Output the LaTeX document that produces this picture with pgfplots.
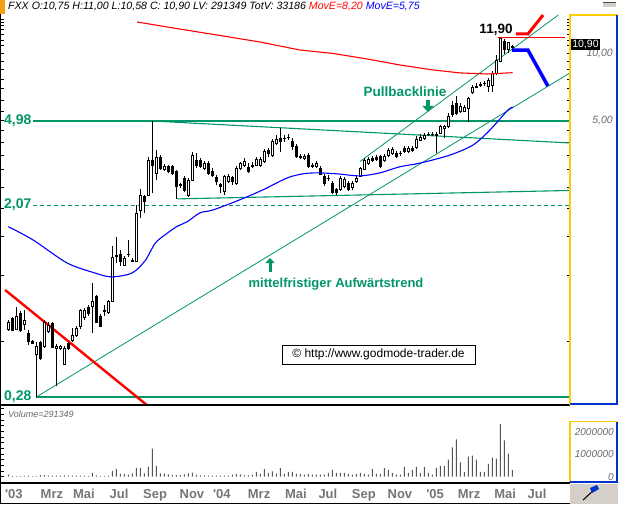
\documentclass[border=0pt]{standalone}
\usepackage{fontspec}
\setmainfont{Liberation Sans}
\usepackage{pgfplots}
\usepackage{pgfplotstable}
\pgfplotsset{compat=1.18}
\usetikzlibrary{arrows.meta}

\definecolor{gmgreen}{RGB}{0,150,105}
\definecolor{gmred}{RGB}{255,0,0}
\definecolor{gmblue}{RGB}{0,0,255}
\definecolor{gmyellow}{RGB}{255,204,0}
\definecolor{gmframe}{RGB}{0,51,204}
\definecolor{gmgray}{RGB}{105,105,105}
\definecolor{gmtick}{RGB}{118,118,118}
\definecolor{gmpanel}{RGB}{212,208,200}
\definecolor{gmorange}{RGB}{245,160,20}
\definecolor{volgray}{RGB}{85,85,85}

\pgfplotstableread{
i o h l c
0 0.567 0.625 0.559 0.608
1 0.635 0.645 0.557 0.563
2 0.569 0.718 0.563 0.647
3 0.671 0.687 0.552 0.563
4 0.600 0.694 0.563 0.625
5 0.546 0.563 0.482 0.499
6 0.498 0.508 0.487 0.492
7 0.439 0.499 0.280 0.473
8 0.494 0.502 0.412 0.419
9 0.473 0.625 0.467 0.613
10 0.554 0.613 0.546 0.594
11 0.604 0.613 0.467 0.470
12 0.467 0.487 0.314 0.477
13 0.464 0.482 0.457 0.473
14 0.394 0.477 0.391 0.466
15 0.491 0.498 0.457 0.466
16 0.508 0.575 0.498 0.535
17 0.535 0.588 0.524 0.573
18 0.583 0.701 0.569 0.689
19 0.643 0.709 0.625 0.689
20 0.714 0.731 0.652 0.671
21 0.718 0.917 0.546 0.757
22 0.798 0.812 0.606 0.608
23 0.647 0.666 0.582 0.588
24 0.685 0.731 0.652 0.694
25 0.678 0.770 0.666 0.757
26 0.757 1.35 0.755 1.20
27 1.215 1.49 1.13 1.225
28 1.24 1.30 1.10 1.15
29 1.11 1.22 1.10 1.19
30 1.235 1.44 1.21 1.24
31 1.155 1.19 1.15 1.17
32 1.15 2.07 1.15 1.90
33 1.97 2.45 1.81 2.30
34 2.26 2.30 1.91 2.15
35 2.30 3.43 2.28 3.32
36 3.32 4.98 2.35 3.15
37 2.89 3.68 2.69 3.41
38 3.41 3.49 2.99 3.04
39 3.02 3.18 2.96 3.12
40 3.09 3.15 2.90 2.94
41 3.09 3.15 2.84 2.89
42 2.94 2.99 2.21 2.52
43 2.56 2.61 2.48 2.55
44 2.74 2.81 2.38 2.41
45 2.30 2.75 2.26 2.69
46 2.69 3.60 2.66 3.49
47 3.32 3.56 3.05 3.15
48 3.29 3.39 3.05 3.12
49 3.04 3.29 2.99 3.21
50 3.21 3.29 2.84 2.89
51 2.94 3.05 2.78 2.84
52 2.77 2.84 2.56 2.65
53 2.56 2.61 2.35 2.53
54 2.39 2.84 2.30 2.81
55 2.65 2.87 2.61 2.81
56 2.76 2.81 2.56 2.65
57 2.60 3.12 2.56 3.04
58 3.04 3.26 2.99 3.21
59 3.15 3.39 3.09 3.26
60 3.08 3.22 2.90 2.94
61 3.09 3.25 3.05 3.15
62 3.15 3.43 3.12 3.34
63 3.15 3.42 3.09 3.34
64 3.26 3.72 3.22 3.62
65 3.65 3.76 3.42 3.55
66 3.49 4.12 3.42 4.01
67 3.95 4.30 3.88 4.11
68 4.16 4.61 3.62 4.01
69 4.14 4.30 4.01 4.16
70 4.21 4.35 4.08 4.18
71 4.01 4.16 3.68 3.81
72 3.81 3.92 3.39 3.43
73 3.44 3.53 3.36 3.42
74 3.37 3.53 3.32 3.46
75 3.49 3.56 3.05 3.09
76 3.15 3.22 3.05 3.12
77 3.12 3.29 3.05 3.21
78 3.04 3.12 2.84 2.87
79 2.81 2.87 2.53 2.59
80 2.75 2.84 2.66 2.73
81 2.60 2.66 2.33 2.36
82 2.43 2.48 2.30 2.36
83 2.43 2.81 2.40 2.74
84 2.53 2.78 2.48 2.71
85 2.60 2.66 2.40 2.45
86 2.50 2.66 2.43 2.60
87 2.65 2.81 2.61 2.73
88 2.81 3.09 2.78 3.04
89 3.02 3.39 2.99 3.29
90 3.21 3.42 3.15 3.33
91 3.37 3.46 3.25 3.30
92 3.41 3.49 3.29 3.34
93 3.43 3.49 3.04 3.09
94 3.32 3.53 3.25 3.43
95 3.49 3.76 3.42 3.68
96 3.55 3.80 3.49 3.71
97 3.55 3.64 3.39 3.43
98 3.54 3.64 3.46 3.56
99 3.75 3.84 3.56 3.62
100 3.62 3.84 3.56 3.75
101 3.75 3.84 3.60 3.65
102 3.79 4.26 3.72 4.13
103 4.08 4.35 4.04 4.22
104 4.16 4.39 4.08 4.30
105 4.32 4.43 4.26 4.35
106 4.32 4.43 4.26 4.35
107 4.30 4.43 3.55 4.35
108 4.40 4.78 4.35 4.70
109 4.61 4.78 4.16 4.70
110 4.70 5.41 4.65 5.24
111 5.88 6.13 5.19 5.36
112 6.01 6.46 5.30 5.41
113 5.49 6.01 5.41 5.78
114 5.53 5.88 5.47 5.76
115 5.68 6.40 4.95 6.33
116 6.74 7.25 6.60 7.10
117 7.10 7.38 7.00 7.18
118 7.25 7.48 7.10 7.33
119 7.34 7.56 7.18 7.38
120 7.12 7.80 6.76 7.64
121 7.25 8.38 6.76 8.19
122 8.22 9.91 8.05 9.41
123 9.25 11.90 9.22 11.80
124 11.40 11.70 10.00 10.50
125 10.52 11.40 10.12 11.30
126 10.75 11.00 10.58 10.90
}\candles

\pgfplotstableread{
i v
0 90000
1 30000
2 30000
3 30000
4 30000
5 45000
6 30000
7 30000
8 75000
9 75000
10 45000
11 45000
12 45000
13 45000
14 60000
15 45000
16 45000
17 45000
18 45000
19 45000
20 30000
21 165000
22 60000
23 30000
24 30000
25 45000
26 255000
27 345000
28 120000
29 120000
30 90000
31 150000
32 390000
33 390000
34 150000
35 450000
36 1245000
37 480000
38 150000
39 135000
40 105000
41 75000
42 75000
43 75000
44 105000
45 150000
46 180000
47 90000
48 60000
49 60000
50 45000
51 45000
52 45000
53 45000
54 45000
55 45000
56 90000
57 120000
58 105000
59 60000
60 60000
61 90000
62 210000
63 120000
64 330000
65 165000
66 240000
67 135000
68 375000
69 120000
70 210000
71 210000
72 120000
73 120000
74 90000
75 120000
76 90000
77 90000
78 90000
79 90000
80 165000
81 300000
82 165000
83 165000
84 165000
85 120000
86 90000
87 120000
88 165000
89 120000
90 90000
91 345000
92 120000
93 120000
94 375000
95 300000
96 165000
97 90000
98 90000
99 435000
100 165000
101 300000
102 435000
103 165000
104 435000
105 165000
106 90000
107 390000
108 480000
109 480000
110 750000
111 1290000
112 1650000
113 630000
114 210000
115 885000
116 930000
117 750000
118 210000
119 210000
120 570000
121 840000
122 795000
123 2325000
124 1605000
125 1020000
126 291349
}\volume

\begin{document}
\begin{tikzpicture}[x=1pt,y=1pt]
\path[use as bounding box, fill=white] (0,0) rectangle (618,504);

% ---------------- main price panel ----------------
\begin{axis}[
  at={(1pt,99pt)}, anchor=south west, scale only axis,
  width=569pt, height=390pt,
  xmin=-1.825, xmax=140.425,
  ymode=log, ymin=0.2576, ymax=15.04,
  axis line style={draw=none},
  xtick=\empty,
  ytick={0.5,1,1.5,2,2.5,3,3.5,4,4.5,5,5.5,6.2,7,7.7,8.5,9.3,10.1,11,11.6,12.3,12.9,13.5,13.9,14.4},
  yticklabel=\empty,
  minor ytick={},
  tick align=inside, major tick length=3pt,
  every tick/.style={black, line width=0.6pt},
]
% support / resistance lines
\addplot[gmgreen, line width=1.2pt] coordinates {(6.2,4.98) (140.5,4.98)};
\addplot[gmgreen, line width=1.1pt, dash pattern=on 4pt off 3pt] coordinates {(6.2,2.07) (140.5,2.07)};
\addplot[gmgreen, line width=1.2pt] coordinates {(6.9,0.28) (140.5,0.28)};
\addplot[gmgreen, line width=1.1pt] coordinates {(35.9,4.98) (140.4,3.96)};
\addplot[gmgreen, line width=1.1pt] coordinates {(42.2,2.21) (140.4,2.413)};
\addplot[gmgreen, line width=0.8pt] coordinates {(7,0.28) (140.4,8.22)};
\addplot[gmgreen, line width=0.8pt] coordinates {(87.9,3.26) (137.5,15.04)};
% red downtrend
\addplot[gmred, line width=2.4pt] coordinates {(-0.8,0.855) (35.4,0.251)};

% candles
\pgfplotsforeachungrouped \k in {0,...,126}{%
  \pgfplotstablegetelem{\k}{i}\of\candles \let\ci\pgfplotsretval
  \pgfplotstablegetelem{\k}{o}\of\candles \let\co\pgfplotsretval
  \pgfplotstablegetelem{\k}{h}\of\candles \let\ch\pgfplotsretval
  \pgfplotstablegetelem{\k}{l}\of\candles \let\cl\pgfplotsretval
  \pgfplotstablegetelem{\k}{c}\of\candles \let\cc\pgfplotsretval
  \pgfmathsetmacro\xa{\ci-0.32}%
  \pgfmathsetmacro\xb{\ci+0.32}%
  \pgfmathtruncatemacro\up{\cc>=\co ? 1 : 0}%
  \ifnum\up=1 \def\cfill{white}\else\def\cfill{black}\fi
  \edef\temp{\noexpand\draw[black,line width=0.6pt] (axis cs:\ci,\cl) -- (axis cs:\ci,\ch);
    \noexpand\draw[black,line width=0.6pt,fill=\cfill] (axis cs:\xa,\co) rectangle (axis cs:\xb,\cc);}%
  \temp
}

% moving averages
\addplot[gmred, line width=1.1pt] coordinates {(32.2,13.98) (43.2,12.96) (52.9,12.15) (62.9,11.35) (72.9,10.44) (81.2,10.07) (89.7,9.51) (97.9,8.93) (106.2,8.48) (112.9,8.22) (119.7,8.13) (126.1,8.24)};
\addplot[gmblue, line width=1.1pt, smooth] coordinates {(0,1.654) (6.2,1.44) (14.7,1.133) (21.7,1.02) (25.8,0.98) (30.9,1.02) (34.2,1.16) (36.7,1.39) (39.2,1.52) (42.2,1.66) (44.7,1.74) (47.9,1.91) (51.2,1.97) (57.9,2.19) (63.7,2.43) (69.7,2.75) (73.7,2.87) (77.2,2.90) (82.2,2.87) (87.9,2.81) (92.9,2.90) (97.9,3.09) (102.9,3.21) (110.4,3.49) (116.2,3.88) (120.4,4.53) (124.9,5.58) (126.2,5.75)};
% 11,90 level and projection arrows
\addplot[gmred, line width=1.1pt] coordinates {(122.4,11.9) (139.2,11.9)};
\addplot[gmred, line width=3pt] coordinates {(126.9,12.34) (129.9,12.34) (133.7,15.04)};
\addplot[gmblue, line width=3.5pt] coordinates {(125.9,10.44) (129.9,10.44) (134.9,7.17)};
\end{axis}

% ---------------- volume panel ----------------
\begin{axis}[
  at={(1pt,21pt)}, anchor=south west, scale only axis,
  width=569pt, height=76pt,
  xmin=-1.825, xmax=140.425,
  ymin=-278000, ymax=3077000,
  axis line style={draw=none},
  xtick={1.4,10.9,18.9,27.7,36.7,45.9,53.4,62.7,71.9,79.9,88.9,97.9,106.7,115.2,124.2,132.2},
  xticklabels={\textquotesingle03,Mrz,Mai,Jul,Sep,Nov,\textquotesingle04,Mrz,Mai,Jul,Sep,Nov,\textquotesingle05,Mrz,Mai,Jul},
  x tick style={draw=none},
  xticklabel style={font=\fontsize{13}{13}\selectfont\bfseries, text=gmtick, anchor=base, yshift=-15pt, inner sep=0pt},
  ytick={0,250000,500000,750000,1000000,1250000,1500000,1750000,2000000,2250000,2500000,2750000,3000000},
  yticklabel=\empty,
  ytick pos=left,
  tick align=inside, major tick length=3pt,
  y tick style={black, line width=0.6pt},
  scaled y ticks=false,
]
\addplot[ybar, bar width=1pt, fill=volgray, draw=none] table[x=i,y=v]{\volume};
\end{axis}

% ---------------- frames ----------------
\draw[black, line width=2pt] (0,99) -- (570,99);
\draw[black, line width=2pt] (0,21) -- (570,21);
\draw[black, line width=1pt] (0.5,0) -- (0.5,490);
\draw[black, line width=1pt] (0,0.5) -- (570,0.5);
\draw[gmyellow, line width=1.5pt] (570,99.5) -- (570,489) -- (617,489);
\draw[gmframe, line width=1.5pt] (617,489) -- (617,100) -- (570,100);
\draw[gmyellow, line width=1.5pt] (570,22) -- (570,82.3) -- (617,82.3);
\draw[gmframe, line width=1.5pt] (617,82.3) -- (617,22) -- (570,22);
\fill[gmpanel] (570,0) rectangle (618,20);
\draw[black, line width=1pt] (583,4) -- (594,14);
\fill[gmframe] (592,11) -- (599,15) -- (597,19) -- (590,16) -- cycle;
\fill[gmorange] (0,490) rectangle (5,504);
\fill[gmpanel] (603,497) rectangle (616,502);
\draw[black!70, line width=1pt] (603,501.5) -- (616,501.5);

% ---------------- texts ----------------
\node[anchor=base west, inner sep=0, font=\fontsize{10.6}{11}\selectfont\itshape] at (8,494)
  {FXX O:10,75 H:11,00 L:10,58 C: 10,90 LV: 291349 TotV: 33186 \textcolor{gmred}{MovE=8,20} \textcolor{gmblue}{MovE=5,75}};
\node[anchor=west, inner sep=0, font=\fontsize{14}{14}\selectfont\bfseries, text=gmgreen] at (4,383) {4,98};
\node[anchor=west, inner sep=0, font=\fontsize{14}{14}\selectfont\bfseries, text=gmgreen] at (4,299) {2,07};
\node[anchor=west, inner sep=0, font=\fontsize{14}{14}\selectfont\bfseries, text=gmgreen] at (4,107) {0,28};
\node[inner sep=0, font=\fontsize{13.5}{14}\selectfont\bfseries, text=gmgreen] at (405,412) {Pullbacklinie};
\draw[gmgreen, line width=3.5pt, -{Triangle[width=11pt,length=6pt]}] (428,404) -- (428,392);
\node[inner sep=0, font=\fontsize{13}{14}\selectfont\bfseries, text=gmgreen] at (336,220) {mittelfristiger Aufwärtstrend};
\draw[gmgreen, line width=3pt, -{Triangle[width=9pt,length=5pt]}] (270,232) -- (270,246);
\node[inner sep=0, font=\fontsize{13.5}{14}\selectfont\bfseries] at (496,474) {11,90};
\draw[black, line width=0.8pt, fill=white] (282,140) rectangle (475,159);
\node[inner sep=0, font=\fontsize{12}{12}\selectfont] at (378.5,149.5) {© http://www.godmode-trader.de};
% right price labels
\node[anchor=east, inner sep=0, font=\fontsize{10.5}{11}\selectfont\itshape, text=gmgray] at (613,450) {10,00};
\node[anchor=east, inner sep=0, font=\fontsize{10.5}{11}\selectfont\itshape, text=gmgray] at (613,383) {5,00};
\node[fill=black, text=white, inner xsep=1.5pt, inner ysep=1.5pt, font=\fontsize{10.5}{11}\selectfont] at (585.5,459.5) {10,90};
% volume texts
\node[anchor=base west, inner sep=0, font=\fontsize{9}{9}\selectfont\itshape, text=gmgray] at (8,87) {Volume=291349};
\node[anchor=east, inner sep=0, font=\fontsize{10}{10}\selectfont\itshape, text=gmgray] at (614,72.3) {2000000};
\node[anchor=east, inner sep=0, font=\fontsize{10}{10}\selectfont\itshape, text=gmgray] at (614,49.7) {1000000};
\node[anchor=east, inner sep=0, font=\fontsize{10}{10}\selectfont\itshape, text=gmgray] at (614,27) {0};
\end{tikzpicture}
\end{document}
